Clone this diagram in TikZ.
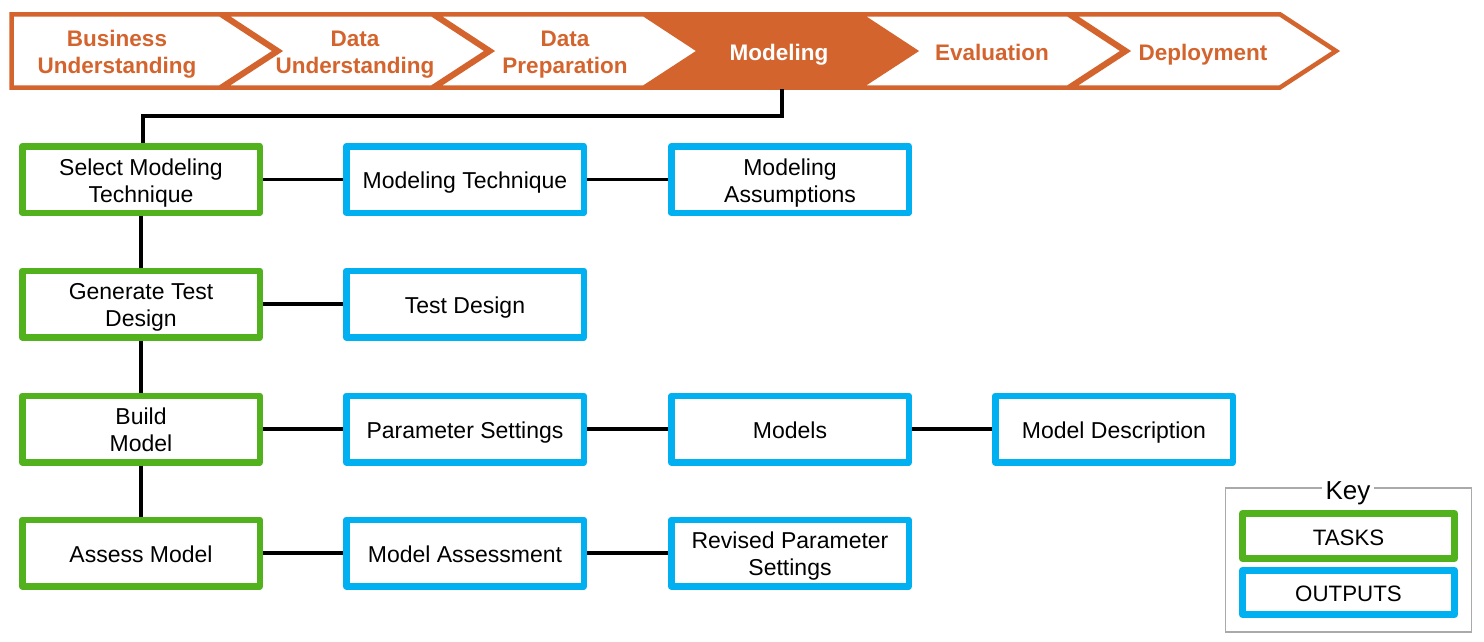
\documentclass[tikz,border=0pt]{standalone}
\usepackage{fontspec}
\setmainfont{Liberation Sans}
\definecolor{corange}{RGB}{212,100,46}
\definecolor{cgreen}{RGB}{82,178,30}
\definecolor{cblue}{RGB}{0,176,240}
\definecolor{cgray}{RGB}{170,170,170}
\newcommand{\topstrut}{\rule{0pt}{1.1em}}
\newcommand{\botstrut}{\rule[-0.29em]{0pt}{0pt}}
\begin{document}
\begin{tikzpicture}[x=1pt,y=-1pt,
  chev/.style={draw=corange,line width=4.5pt,line join=miter},
  chevtext/.style={text=corange,font=\fontsize{22.5}{27}\selectfont\bfseries,align=center,inner sep=0pt,
    execute at begin node=\topstrut, execute at end node=\botstrut},
  taskbox/.style={draw=cgreen,line width=6.5pt,line join=round,fill=white,minimum width=237.5pt,minimum height=66.5pt,align=center,
    font=\fontsize{23}{27}\selectfont,inner sep=0pt,
    execute at begin node=\topstrut, execute at end node=\botstrut},
  outbox/.style={taskbox,draw=cblue},
  link/.style={line width=3.5pt,black}]
\useasboundingbox (0,0) rectangle (1484,641);
% banner chevrons
\draw[chev] (11.5,14.3) -- (220,14.3) -- (276,51) -- (220,87.5) -- (11.5,87.5) -- cycle;
\foreach \i in {1,2,4,5}{
  \pgfmathsetmacro{\L}{8+212*\i+3}
  \pgfmathsetmacro{\R}{220+212*\i}
  \draw[chev] (\L,14.3) -- (\R,14.3) -- (\R+56,51) -- (\R,87.5) -- (\L,87.5) -- (\L+56,51) -- cycle;
}
\draw[chev,fill=corange] (647,14.3) -- (856,14.3) -- (912,51) -- (856,87.5) -- (647,87.5) -- (703,51) -- cycle;
\node[chevtext] (c1) at (117,51) {\topstrut Business\\Understanding};
\node[chevtext] (c2) at (355,51) {\topstrut Data\\Understanding};
\node[chevtext] (c3) at (565,51) {\topstrut Data\\Preparation};
\node[chevtext,text=white] (c4) at (779,51) {Modeling};
\node[chevtext] (c5) at (992,51) {Evaluation};
\node[chevtext] (c6) at (1203,51) {Deployment};
\coordinate (modbot) at (782,89);
% tasks
\node[taskbox] (t1) at (141,179.5) {\topstrut Select Modeling\\Technique};
\node[taskbox] (t2) at (141,304) {\topstrut Generate Test\\Design};
\node[taskbox] (t3) at (141,429) {\topstrut Build\\Model};
\node[taskbox] (t4) at (141,553) {Assess Model};
% outputs
\node[outbox] (o11) at (465,179.5) {Modeling Technique};
\node[outbox] (o12) at (790,179.5) {\topstrut Modeling\\Assumptions};
\node[outbox] (o21) at (465,304) {Test Design};
\node[outbox] (o31) at (465,429) {Parameter Settings};
\node[outbox] (o32) at (790,429) {Models};
\node[outbox] (o33) at (1114,429) {Model Description};
\node[outbox] (o41) at (465,553) {Model Assessment};
\node[outbox] (o42) at (790,553) {\topstrut Revised Parameter\\Settings};
% connectors
\coordinate (elbow) at (143,116);
\draw[link] (modbot) |- (elbow) -- (elbow |- t1.north);
\draw[link] (t1) -- (t2);
\draw[link] (t2) -- (t3);
\draw[link] (t3) -- (t4);
\draw[link] (t1) -- (o11);
\draw[link] (o11) -- (o12);
\draw[link] (t2) -- (o21);
\draw[link] (t3) -- (o31);
\draw[link] (o31) -- (o32);
\draw[link] (o32) -- (o33);
\draw[link] (t4) -- (o41);
\draw[link] (o41) -- (o42);
% key
\draw[cgray,line width=1.2pt] (1225.5,488) rectangle (1471.5,632);
\node[fill=white,inner xsep=4pt,inner ysep=0pt,font=\fontsize{26}{30}\selectfont,
  execute at begin node=\topstrut, execute at end node=\botstrut] (key) at (1348,489) {Key};
\node[taskbox,line width=7pt,minimum width=212pt,minimum height=45pt,font=\fontsize{22.3}{27}\selectfont] (kt) at (1348.5,536) {TASKS};
\node[outbox,line width=7pt,minimum width=212pt,minimum height=44pt,font=\fontsize{22.3}{27}\selectfont] (ko) at (1348.5,592.5) {OUTPUTS};
\end{tikzpicture}
\end{document}
